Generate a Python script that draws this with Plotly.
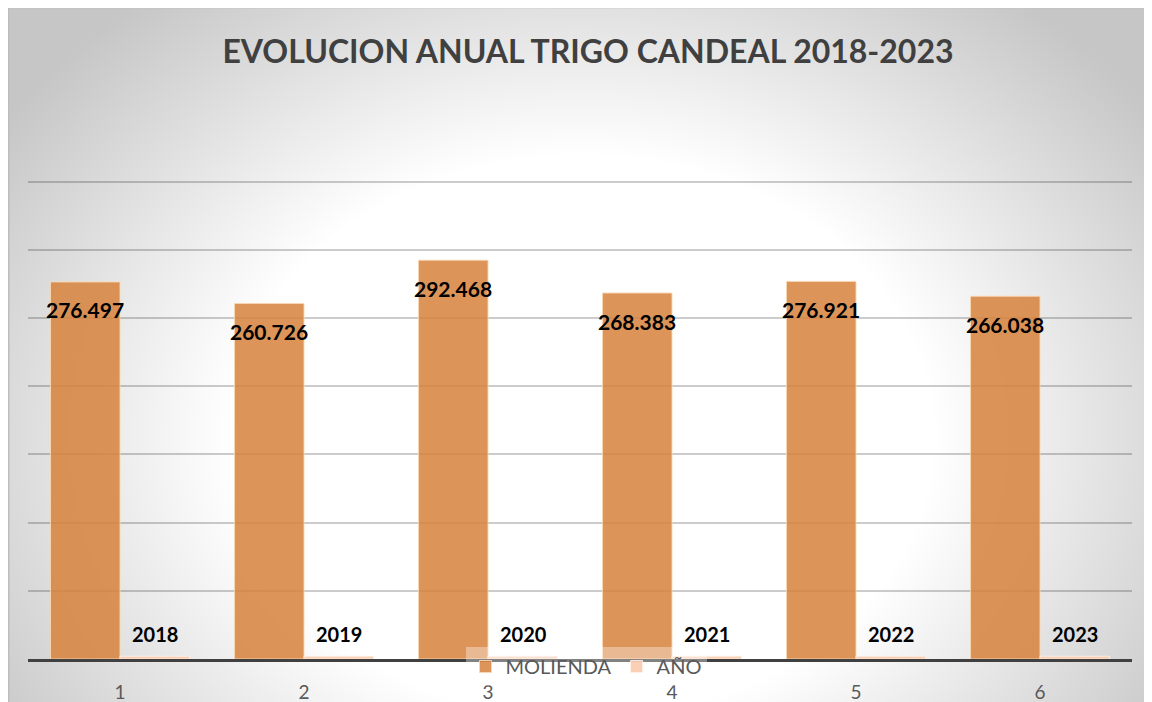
import base64
import plotly.graph_objects as go

# ---- data ----
categories = ["1", "2", "3", "4", "5", "6"]
molienda = [276497, 260726, 292468, 268383, 276921, 266038]
anio = [2018, 2019, 2020, 2021, 2022, 2023]
title_text = "EVOLUCION ANUAL TRIGO CANDEAL 2018-2023"
series_names = ["MOLIENDA", "AÑO"]

OFF = 8  # page body margin
W, H = 1152 - OFF, 702 - OFF
YMAX = 352000
BASE = 659 - OFF
PX_PER_UNIT = 477 / 350000
PH = YMAX * PX_PER_UNIT
ML = 28 - OFF
MR = W - (1132 - OFF)
MB = H - BASE
MT = BASE - PH
PW = W - ML - MR

# background: radial gradient (as SVG image)
svg = '''<svg xmlns="http://www.w3.org/2000/svg" width="1160" height="710" viewBox="0 0 1160 710" preserveAspectRatio="none">
<defs><radialGradient id="g" cx="0" cy="0" r="1" gradientUnits="userSpaceOnUse" gradientTransform="translate(574 430) scale(700 560)">
<stop offset="0" stop-color="#ffffff"/><stop offset="0.5" stop-color="#ffffff"/><stop offset="1" stop-color="#c6c6c6"/>
</radialGradient></defs>
<rect x="0" y="0" width="1160" height="710" fill="url(#g)"/>
<line x1="0" y1="0.75" x2="1160" y2="0.75" stroke="#bdbdbd" stroke-width="1.5"/>
<line x1="0.75" y1="0" x2="0.75" y2="710" stroke="#bdbdbd" stroke-width="1.5"/>
</svg>'''
src = "data:image/svg+xml;base64," + base64.b64encode(svg.encode()).decode()

fig = go.Figure()
fig.add_trace(go.Bar(
    x=categories, y=molienda, name=series_names[0],
    marker=dict(color="rgba(214,130,62,0.86)", line=dict(color="rgba(250,215,180,0.9)", width=1)),
))
fig.add_trace(go.Bar(
    x=categories, y=anio, name=series_names[1],
    marker=dict(color="rgba(248,203,173,0.9)", line=dict(color="rgba(255,240,230,0.9)", width=1)),
))

annotations = []
for i, v in enumerate(molienda):
    annotations.append(dict(
        x=i, y=v, xref="x", yref="y", text=f"{v:,}".replace(",", "."),
        showarrow=False, xshift=-35, yshift=-28, yanchor="middle", xanchor="center",
        font=dict(family="Lato", size=21, color="#000000", weight="bold"),
    ))
for i, v in enumerate(anio):
    annotations.append(dict(
        x=i, y=v, xref="x", yref="y", text=str(v),
        showarrow=False, xshift=35, yshift=22, yanchor="middle", xanchor="center",
        font=dict(family="Lato", size=20, color="#000000", weight="bold"),
    ))

fig.update_layout(
    width=W, height=H,
    margin=dict(l=ML, r=MR, t=MT, b=MB, pad=0, autoexpand=False),
    paper_bgcolor="#ffffff",
    plot_bgcolor="rgba(0,0,0,0)",
    barmode="group", bargap=0.245, bargroupgap=0,
    separators=",.",
    title=dict(text=title_text, x=(588 - OFF) / W, xanchor="center", xref="container",
               y=1 - (52 - OFF) / H, yanchor="middle", yref="container",
               font=dict(family="Lato", size=32, color="#404040", weight="bold")),
    showlegend=True,
    legend=dict(orientation="h", x=(586 - 28) / PW, xanchor="center",
                y=(659 - 647) / PH, yanchor="top",
                bgcolor="rgba(255,255,255,0.35)", borderwidth=0,
                font=dict(family="Lato", size=20, color="#595959"),
                traceorder="normal"),
    xaxis=dict(type="category", showgrid=False, showline=True, linecolor="#404040", linewidth=3,
               ticks="", ticklabelstandoff=14,
               tickfont=dict(family="Lato", size=19, color="#595959")),
    yaxis=dict(range=[0, YMAX], dtick=50000, showgrid=True,
               gridcolor="rgba(0,0,0,0.2)", gridwidth=1.5,
               showticklabels=False, zeroline=False, showline=False),
    annotations=annotations,
    images=[dict(source=src, xref="paper", yref="paper",
                 x=-ML / PW, y=(BASE + 1) / PH,
                 sizex=1160 / PW, sizey=710 / PH,
                 xanchor="left", yanchor="top", sizing="stretch", layer="below")],
)

fig.write_html("out.html")
